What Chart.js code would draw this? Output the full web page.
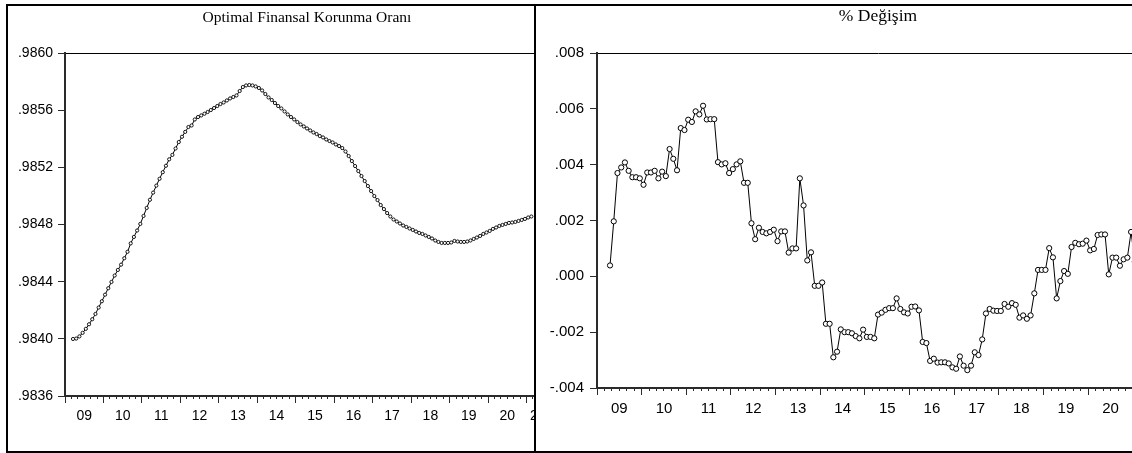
<!DOCTYPE html>
<html><head><meta charset="utf-8">
<script src="https://cdn.jsdelivr.net/npm/chart.js@4.4.1/dist/chart.umd.min.js"></script>
<style>
html,body{margin:0;padding:0;background:#fff;width:1132px;height:453px;overflow:hidden;}
#wrap{position:relative;width:1132px;height:453px;overflow:hidden;}
.clip{position:absolute;top:0;height:453px;overflow:hidden;}
#leftClip{left:0;width:534px;}
#rightClip{left:536px;width:596px;}
canvas{position:absolute;top:0;left:0;}
.rule{position:absolute;background:#000;z-index:5;}
</style></head><body>
<div id="wrap">
  <div class="clip" id="leftClip"><canvas id="c1" width="560" height="453"></canvas></div>
  <div class="clip" id="rightClip"><canvas id="c2" width="633" height="453"></canvas></div>
  <div class="rule" style="left:6px;top:4px;width:1126px;height:2px"></div>
  <div class="rule" style="left:6px;top:4px;width:2px;height:449px"></div>
  <div class="rule" style="left:6px;top:451px;width:1126px;height:2px"></div>
  <div class="rule" style="left:534px;top:4px;width:2px;height:449px"></div>
</div>
<script>
// ---------- data (monthly) ----------
const startYear = 2009;            // workfile starts 2009M01
const axisEnd = 2021 + 7 / 12;     // axis range ends 2021M07
const yearLabels = ['09','10','11','12','13','14','15','16','17','18','19','20','21'];

const hedgeTitle = 'Optimal Finansal Korunma Oranı';
const hedgeStartMonth = 2;         // 2009M03
const hedgeRatio = [
  0.983999,0.984002,0.984017,0.984042,0.984070,0.984102,0.984137,0.984174,0.984219,0.984263,
  0.984309,0.984354,0.984398,0.984443,0.984482,0.984519,0.984564,0.984609,0.984668,0.984713,
  0.984758,0.984804,0.984860,0.984916,0.984973,0.985023,0.985072,0.985120,0.985166,0.985211,
  0.985256,0.985287,0.985332,0.985377,0.985414,0.985448,0.985482,0.985493,0.985535,0.985552,
  0.985563,0.985575,0.985587,0.985601,0.985615,0.985629,0.985643,0.985654,0.985668,0.985682,
  0.985692,0.985703,0.985734,0.985762,0.985773,0.985776,0.985773,0.985766,0.985755,0.985738,
  0.985713,0.985689,0.985671,0.985650,0.985629,0.985612,0.985591,0.985570,0.985552,0.985535,
  0.985517,0.985500,0.985486,0.985472,0.985458,0.985444,0.985433,0.985419,0.985409,0.985395,
  0.985384,0.985374,0.985360,0.985349,0.985335,0.985311,0.985279,0.985244,0.985209,0.985174,
  0.985139,0.985104,0.985069,0.985034,0.984999,0.984971,0.984936,0.984908,0.984880,0.984856,
  0.984835,0.984821,0.984807,0.984793,0.984783,0.984772,0.984762,0.984751,0.984741,0.984734,
  0.984723,0.984713,0.984702,0.984688,0.984678,0.984671,0.984671,0.984671,0.984674,0.984685,
  0.984681,0.984678,0.984678,0.984681,0.984688,0.984699,0.984709,0.984720,0.984734,0.984744,
  0.984755,0.984769,0.984779,0.984790,0.984797,0.984804,0.984811,0.984814,0.984818,0.984825,
  0.984832,0.984839,0.984849,0.984856
];

const pctTitle = '% Değişim';
const pctStartMonth = 3;           // 2009M04
const pctChange = [
  0.00039,0.00197,0.00370,0.00390,0.00408,0.00378,0.00355,0.00355,0.00351,0.00328,
  0.00372,0.00372,0.00378,0.00351,0.00375,0.00359,0.00456,0.00421,0.00380,0.00531,
  0.00524,0.00561,0.00553,0.00591,0.00580,0.00611,0.00562,0.00563,0.00563,0.00409,
  0.00401,0.00405,0.00370,0.00384,0.00401,0.00412,0.00335,0.00335,0.00190,0.00133,
  0.00174,0.00159,0.00154,0.00159,0.00167,0.00126,0.00161,0.00161,0.00085,0.00100,
  0.00100,0.00351,0.00254,0.00057,0.00086,-0.00034,-0.00034,-0.00022,-0.00170,-0.00170,
  -0.00290,-0.00270,-0.00190,-0.00200,-0.00200,-0.00204,-0.00214,-0.00222,-0.00191,-0.00217,
  -0.00217,-0.00222,-0.00137,-0.00130,-0.00120,-0.00114,-0.00114,-0.00079,-0.00117,-0.00129,
  -0.00133,-0.00109,-0.00108,-0.00122,-0.00235,-0.00239,-0.00303,-0.00295,-0.00309,-0.00308,
  -0.00308,-0.00312,-0.00326,-0.00331,-0.00287,-0.00320,-0.00336,-0.00320,-0.00272,-0.00282,
  -0.00226,-0.00133,-0.00117,-0.00123,-0.00124,-0.00124,-0.00099,-0.00109,-0.00096,-0.00102,
  -0.00148,-0.00140,-0.00152,-0.00140,-0.00061,0.00023,0.00023,0.00023,0.00101,0.00068,
  -0.00079,-0.00017,0.00019,0.00009,0.00105,0.00120,0.00115,0.00117,0.00128,0.00093,
  0.00098,0.00148,0.00150,0.00150,0.00007,0.00067,0.00067,0.00038,0.00061,0.00067,
  0.00159,0.00052
];

const hedgeYTicks = [0.9836,0.9840,0.9844,0.9848,0.9852,0.9856,0.9860];
const pctYTicks = [-0.004,-0.002,0.000,0.002,0.004,0.006,0.008];

// ---------- helpers ----------
function toPoints(values, startMonth) {
  return values.map((v, k) => ({x: startYear + (startMonth + k + 0.5) / 12, y: v}));
}
function majorAndLabelTicks() {
  const t = [];
  yearLabels.forEach((lbl, i) => {
    const lo = startYear + i;
    if (lo > axisEnd) return;
    const hi = Math.min(lo + 1, axisEnd);
    t.push({value: lo});
    t.push({value: (lo + hi) / 2, lbl: lbl});
  });
  return t;
}
function minorTicks() {
  const t = [];
  for (let m = 0; startYear + m / 12 <= axisEnd + 1e-9; m += 2) {
    if (m % 12 !== 0) t.push({value: startYear + m / 12});
  }
  return t;
}
function fmtTick(v, dec) {
  if (Math.abs(v) < 1e-12) v = 0;
  return v.toFixed(dec).replace('0.', '.');
}

function makeChart(id, cfg) {
  const axisColor = '#2b2b2b';
  return new Chart(document.getElementById(id), {
    type: 'line',
    data: {datasets: [{
      data: cfg.points,
      xAxisID: 'x', yAxisID: 'y',
      borderColor: '#000', borderWidth: 1,
      pointRadius: cfg.pointRadius, pointBorderWidth: cfg.pointBorder,
      pointBackgroundColor: '#fff', pointBorderColor: '#000',
      tension: 0, fill: false
    }]},
    options: {
      responsive: false, animation: false, events: [],
      layout: {padding: {left: 0, top: 0, right: cfg.padRight, bottom: 0}},
      plugins: {
        legend: {display: false}, tooltip: {enabled: false},
        title: {display: true, text: cfg.title, color: '#000', fullSize: false,
          font: {family: 'Liberation Serif', size: cfg.titleSize, weight: 'normal'},
          padding: {top: cfg.titleTop, bottom: cfg.titleBottom}}
      },
      scales: {
        x: {type: 'linear', position: 'bottom', min: startYear, max: axisEnd,
          afterBuildTicks: s => { s.ticks = majorAndLabelTicks(); },
          afterFit: s => { s.height = cfg.xHeight; },
          border: {display: true, color: axisColor, width: 2},
          grid: {drawOnChartArea: false, drawTicks: true, tickLength: 7, tickWidth: 1,
            tickColor: c => (c.tick && c.tick.lbl) ? 'rgba(0,0,0,0)' : axisColor},
          ticks: {autoSkip: false, maxRotation: 0, padding: cfg.xPad, color: '#000',
            font: {family: 'Liberation Sans', size: cfg.xFont},
            callback: (v, i, ticks) => ticks[i].lbl || ''}
        },
        xMinor: {type: 'linear', position: {y: cfg.yMin}, min: startYear, max: axisEnd,
          afterBuildTicks: s => { s.ticks = minorTicks(); },
          border: {display: false},
          grid: {drawOnChartArea: false, drawTicks: true, tickLength: 3, tickWidth: 1, tickColor: axisColor},
          ticks: {display: false}
        },
        xTop: {type: 'linear', position: {y: cfg.yMax}, min: startYear, max: axisEnd,
          border: {display: true, color: '#000', width: 1},
          grid: {display: false, drawTicks: false},
          ticks: {display: false}
        },
        y: {type: 'linear', position: 'left', min: cfg.yMin, max: cfg.yMax,
          afterBuildTicks: s => { s.ticks = cfg.yTicks.map(v => ({value: v})); },
          afterFit: s => { s.width = cfg.yWidth; },
          border: {display: true, color: axisColor, width: 2},
          grid: {drawOnChartArea: false, drawTicks: true, tickLength: 7, tickWidth: 1, tickColor: axisColor},
          ticks: {padding: cfg.yPad, color: '#000',
            font: {family: 'Liberation Sans', size: cfg.yFont},
            callback: v => fmtTick(v, cfg.dec)}
        }
      }
    }
  });
}

makeChart('c1', {
  points: toPoints(hedgeRatio, hedgeStartMonth), title: hedgeTitle,
  titleSize: 15.5, titleTop: 8.2, titleBottom: 26.2,
  padRight: 11, xHeight: 57, xPad: 4.6, xFont: 14,
  yMin: 0.9836, yMax: 0.9860, yTicks: hedgeYTicks, yWidth: 65, yPad: 5, yFont: 14, dec: 4,
  pointRadius: 1.6, pointBorder: 0.9
});
makeChart('c2', {
  points: toPoints(pctChange, pctStartMonth), title: pctTitle,
  titleSize: 17.5, titleTop: 6.3, titleBottom: 25.7,
  padRight: 10, xHeight: 65, xPad: 4.7, xFont: 15,
  yMin: -0.004, yMax: 0.008, yTicks: pctYTicks, yWidth: 61, yPad: 6, yFont: 15, dec: 3,
  pointRadius: 2.6, pointBorder: 1
});
</script>
</body></html>
